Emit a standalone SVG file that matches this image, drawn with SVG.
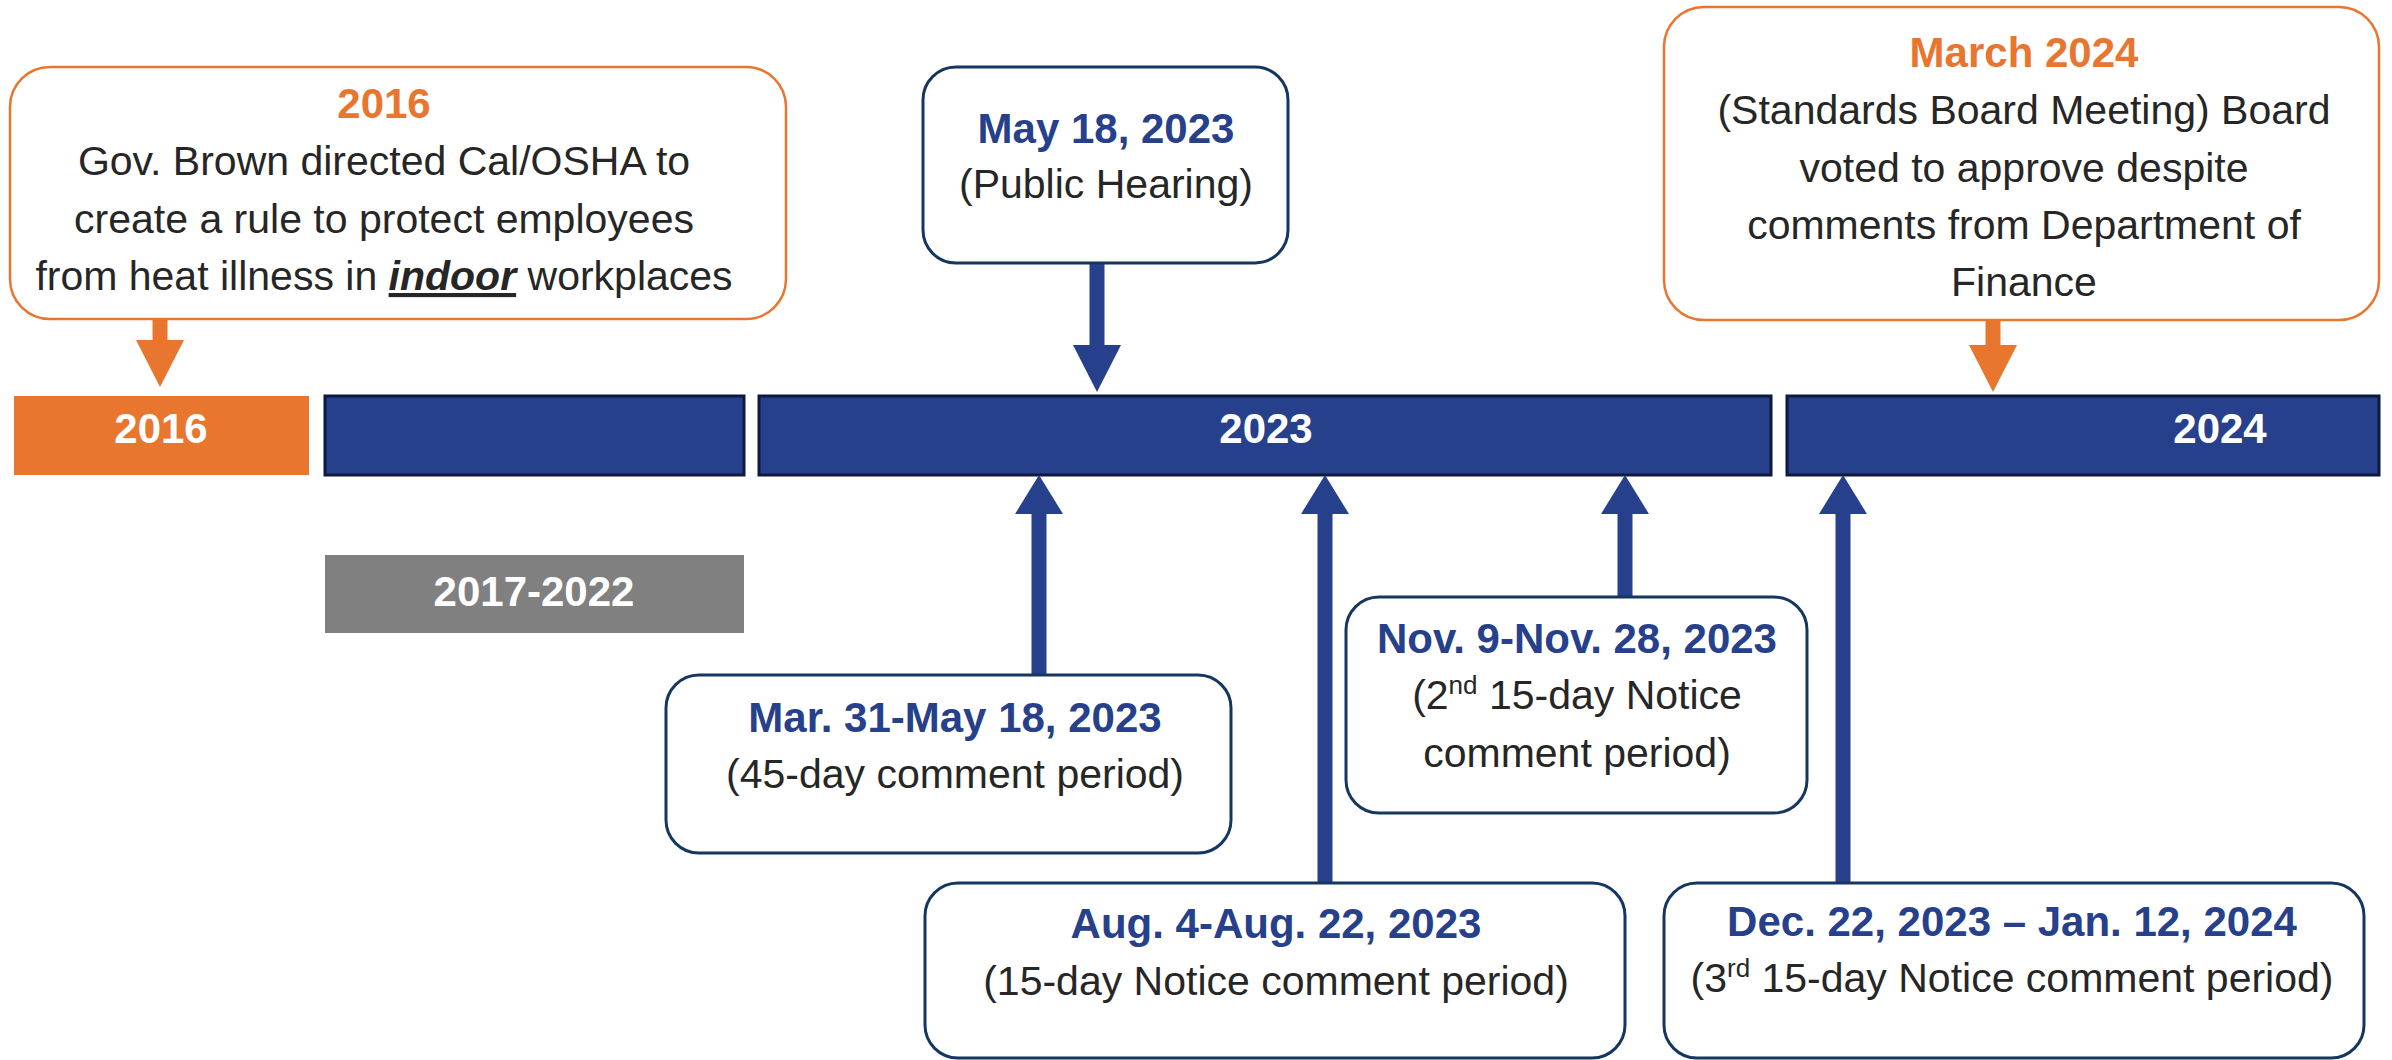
<svg xmlns="http://www.w3.org/2000/svg" width="2392" height="1060" viewBox="0 0 2392 1060">
  <style>
    .txt { font-family: "Liberation Sans", Arial, sans-serif; text-anchor: middle; }
    .body { font-size: 41px; fill: #262626; }
    .head { font-size: 42px; font-weight: bold; }
    .blue { fill: #27408B; }
    .orange { fill: #E8762F; }
    .white { fill: #FFFFFF; }
    .bar { fill: #27408B; stroke: #0D1A3F; stroke-width: 3; }
    .callout-o { fill: #FFFFFF; stroke: #E8762F; stroke-width: 2.5; }
    .callout-b { fill: #FFFFFF; stroke: #15375F; stroke-width: 3; }
    .shaft-o { stroke: #E8762F; stroke-width: 15; fill: none; }
    .shaft-b { stroke: #27408B; stroke-width: 15; fill: none; }
  </style>
  <defs>
    <marker id="head-orange" markerUnits="userSpaceOnUse" viewBox="0 -24 47 48" markerWidth="47" markerHeight="48" refX="0" refY="0" orient="auto">
      <path d="M0,-24 L47,0 L0,24 z" fill="#E8762F"/>
    </marker>
    <marker id="head-blue" markerUnits="userSpaceOnUse" viewBox="0 -24 47 48" markerWidth="47" markerHeight="48" refX="0" refY="0" orient="auto">
      <path d="M0,-24 L47,0 L0,24 z" fill="#27408B"/>
    </marker>
    <marker id="head-blue-short" markerUnits="userSpaceOnUse" viewBox="0 -24 39 48" markerWidth="39" markerHeight="48" refX="0" refY="0" orient="auto">
      <path d="M0,-24 L39,0 L0,24 z" fill="#27408B"/>
    </marker>
  </defs>

  <rect width="2392" height="1060" fill="#FFFFFF"/>

  <!-- timeline bars -->
  <g id="bar-2016">
    <rect x="14" y="396" width="295" height="79" fill="#E8762F"/>
    <text class="txt head white" x="161" y="443">2016</text>
  </g>
  <g id="bar-2017-2022-top">
    <rect class="bar" x="325" y="396" width="419" height="79"/>
  </g>
  <g id="bar-2023">
    <rect class="bar" x="759" y="396" width="1012" height="79"/>
    <text class="txt head white" x="1266" y="443">2023</text>
  </g>
  <g id="bar-2024">
    <rect class="bar" x="1787" y="396" width="592" height="79"/>
    <text class="txt head white" x="2220" y="443">2024</text>
  </g>
  <g id="bar-2017-2022">
    <rect x="325" y="555" width="419" height="78" fill="#808080"/>
    <text class="txt head white" x="534" y="606">2017-2022</text>
  </g>

  <!-- connectors -->
  <g id="connectors">
    <line class="shaft-o" x1="160" y1="318" x2="160" y2="340" marker-end="url(#head-orange)"/>
    <line class="shaft-b" x1="1097" y1="262" x2="1097" y2="345" marker-end="url(#head-blue)"/>
    <line class="shaft-o" x1="1993" y1="319" x2="1993" y2="345" marker-end="url(#head-orange)"/>
    <line class="shaft-b" x1="1039" y1="676" x2="1039" y2="514" marker-end="url(#head-blue-short)"/>
    <line class="shaft-b" x1="1325" y1="884" x2="1325" y2="514" marker-end="url(#head-blue-short)"/>
    <line class="shaft-b" x1="1625" y1="598" x2="1625" y2="514" marker-end="url(#head-blue-short)"/>
    <line class="shaft-b" x1="1843" y1="884" x2="1843" y2="514" marker-end="url(#head-blue-short)"/>
  </g>

  <!-- callouts above the timeline -->
  <g id="note-2016">
    <rect class="callout-o" x="10" y="67" width="776" height="252" rx="40"/>
    <text class="txt head orange" x="384" y="118">2016</text>
    <text class="txt body" x="384" y="175">Gov. Brown directed Cal/OSHA to</text>
    <text class="txt body" x="384" y="233">create a rule to protect employees</text>
    <text class="txt body" x="384" y="290">from heat illness in <tspan font-weight="bold" font-style="italic" text-decoration="underline">indoor</tspan> workplaces</text>
  </g>
  <g id="note-public-hearing">
    <rect class="callout-b" x="923" y="67" width="365" height="196" rx="33"/>
    <text class="txt head blue" x="1106" y="143">May 18, 2023</text>
    <text class="txt body" x="1106" y="198">(Public Hearing)</text>
  </g>
  <g id="note-march-2024">
    <rect class="callout-o" x="1664" y="7" width="715" height="313" rx="40"/>
    <text class="txt head orange" x="2024" y="67">March 2024</text>
    <text class="txt body" x="2024" y="124">(Standards Board Meeting) Board</text>
    <text class="txt body" x="2024" y="182">voted to approve despite</text>
    <text class="txt body" x="2024" y="239">comments from Department of</text>
    <text class="txt body" x="2024" y="296">Finance</text>
  </g>

  <!-- callouts below the timeline -->
  <g id="note-45-day">
    <rect class="callout-b" x="666" y="675" width="565" height="178" rx="33"/>
    <text class="txt head blue" x="955" y="732">Mar. 31-May 18, 2023</text>
    <text class="txt body" x="955" y="788">(45-day comment period)</text>
  </g>
  <g id="note-2nd-15-day">
    <rect class="callout-b" x="1346" y="597" width="461" height="216" rx="33"/>
    <text class="txt head blue" x="1577" y="653">Nov. 9-Nov. 28, 2023</text>
    <text class="txt body" x="1577" y="709">(2<tspan font-size="26" dy="-15">nd</tspan><tspan dy="15"> 15-day Notice</tspan></text>
    <text class="txt body" x="1577" y="767">comment period)</text>
  </g>
  <g id="note-15-day">
    <rect class="callout-b" x="925" y="883" width="700" height="175" rx="33"/>
    <text class="txt head blue" x="1276" y="938">Aug. 4-Aug. 22, 2023</text>
    <text class="txt body" x="1276" y="995">(15-day Notice comment period)</text>
  </g>
  <g id="note-3rd-15-day">
    <rect class="callout-b" x="1664" y="883" width="700" height="175" rx="33"/>
    <text class="txt head blue" x="2012" y="936">Dec. 22, 2023 – Jan. 12, 2024</text>
    <text class="txt body" x="2012" y="992">(3<tspan font-size="26" dy="-15">rd</tspan><tspan dy="15"> 15-day Notice comment period)</tspan></text>
  </g>
</svg>
